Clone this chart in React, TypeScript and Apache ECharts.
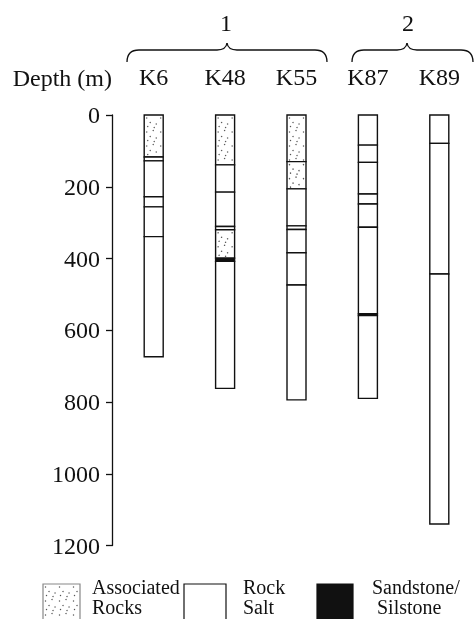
import React, { useEffect, useRef } from "react";
import * as echarts from "echarts";

// ---- data ----
const wells = ["K6", "K48", "K55", "K87", "K89"];
const groupLabels = ["1", "2"];
const depthTicks = [0, 200, 400, 600, 800, 1000, 1200];

// lithology codes: A = associated rocks, R = rock salt, S = sandstone/siltstone
// [top (m), bottom (m), code]
const k6Layers: [number, number, string][] = [
  [0, 117, "A"], [117, 128, "R"], [128, 228, "R"], [228, 256, "R"], [256, 339, "R"], [339, 674, "R"],
];
const k48Layers: [number, number, string][] = [
  [0, 139, "A"], [139, 215, "A"], [215, 311, "R"], [311, 320, "R"], [320, 399, "A"], [399, 408, "S"], [408, 762, "R"],
];
const k55Layers: [number, number, string][] = [
  [0, 130, "A"], [130, 206, "A"], [206, 309, "R"], [309, 319, "R"], [319, 384, "A"], [384, 474, "R"], [474, 794, "R"],
];
const k87Layers: [number, number, string][] = [
  [0, 84, "R"], [84, 132, "R"], [132, 220, "R"], [220, 248, "R"], [248, 313, "R"], [313, 554, "R"], [554, 559, "S"], [559, 790, "R"],
];
const k89Layers: [number, number, string][] = [
  [0, 79, "R"], [79, 443, "R"], [443, 1140, "R"],
];
const wellLayers = [k6Layers, k48Layers, k55Layers, k87Layers, k89Layers];

const legendItems = [
  { code: "A", lines: ["Associated", "Rocks"] },
  { code: "R", lines: ["Rock", "Salt"] },
  { code: "S", lines: ["Sandstone/", "Silstone"] },
];

// ---- styles ----
const FONT = "Liberation Serif";
const INK = "#111";
const COL_W = 19;
const fills: Record<string, string> = { A: "#ffffff", R: "#ffffff", S: "#111111" };
// stipple dot offsets inside one 14x14 tile (texture, not data)
const STIPPLE = [[2.5, 3], [9, 1.5], [6, 7.5], [12, 9], [3.5, 11.5], [10, 12.5]];

function stippleDots(x: number, y: number, w: number, h: number) {
  const out: any[] = [];
  for (let ty = 0; ty < h; ty += 14) {
    for (let tx = 0; tx < w; tx += 14) {
      STIPPLE.forEach(([dx, dy]) => {
        const cx = x + tx + dx, cy = y + ty + dy;
        if (cx > x + 1.5 && cx < x + w - 1.5 && cy > y + 1.5 && cy < y + h - 1.5) {
          out.push({ type: "circle", shape: { cx, cy, r: 0.7 }, style: { fill: "#555" }, silent: true });
        }
      });
    }
  }
  return out;
}

function brace(x0: number, x1: number, xm: number, yTop: number, yEnd: number) {
  const yb = yTop + 7;
  const st = { stroke: INK, lineWidth: 1.3, fill: "none" };
  return [
    { type: "bezierCurve", shape: { x1: x0, y1: yEnd, x2: x0 + 12, y2: yb, cpx1: x0, cpy1: yb }, style: st },
    { type: "line", shape: { x1: x0 + 12, y1: yb, x2: xm - 10, y2: yb }, style: st },
    { type: "bezierCurve", shape: { x1: xm - 10, y1: yb, x2: xm, y2: yTop, cpx1: xm - 1, cpy1: yb }, style: st },
    { type: "bezierCurve", shape: { x1: xm, y1: yTop, x2: xm + 10, y2: yb, cpx1: xm + 1, cpy1: yb }, style: st },
    { type: "line", shape: { x1: xm + 10, y1: yb, x2: x1 - 12, y2: yb }, style: st },
    { type: "bezierCurve", shape: { x1: x1 - 12, y1: yb, x2: x1, y2: yEnd, cpx1: x1, cpy1: yb }, style: st },
  ];
}

function txt(text: string, x: number, y: number, size: number, align: string) {
  return {
    type: "text", x, y,
    style: { text, fontFamily: FONT, fontSize: size, fill: INK, align, verticalAlign: "middle" },
  };
}

export default function App() {
  const ref = useRef<HTMLDivElement>(null);
  useEffect(() => {
    if (!ref.current) return;
    const chart = echarts.init(ref.current, undefined, { renderer: "svg" });
    const codeIndex: Record<string, number> = { A: 0, R: 1, S: 2 };
    const codes = ["A", "R", "S"];
    const data: number[][] = [];
    wellLayers.forEach((layers, wi) =>
      layers.forEach(([top, bot, c]) => data.push([wi, top, bot, codeIndex[c]]))
    );

    const legendX = [43, 184, 317];
    const legendW = [37, 42, 36];
    const legendTextX = [92, 243, 372];
    const legendTextX2 = [92, 243, 377];
    const legendGraphics: any[] = [];
    legendItems.forEach((it, i) => {
      legendGraphics.push({
        type: "rect",
        shape: { x: legendX[i], y: 584, width: legendW[i], height: 36 },
        style: { fill: fills[it.code], stroke: it.code === "A" ? "#888" : INK, lineWidth: 1.2 },
      });
      if (it.code === "A") legendGraphics.push(...stippleDots(legendX[i], 584, legendW[i], 36));
      legendGraphics.push(txt(it.lines[0], legendTextX[i], 587, 20, "left"));
      legendGraphics.push(txt(it.lines[1], legendTextX2[i], 607, 20, "left"));
    });

    chart.setOption({
      animation: false,
      grid: { left: 118, right: -8, top: 115, bottom: 73.5 },
      xAxis: {
        type: "category",
        position: "top",
        data: wells,
        axisLine: { show: false },
        axisTick: { show: false },
        splitLine: { show: false },
        axisLabel: { fontFamily: FONT, fontSize: 24, color: INK, margin: 26 },
      },
      yAxis: {
        type: "value",
        inverse: true,
        min: 0,
        max: 1200,
        interval: 200,
        offset: 6,
        axisLine: { show: true, lineStyle: { color: INK, width: 1.3 } },
        axisTick: { show: true, length: 6, lineStyle: { color: INK, width: 1.3 } },
        splitLine: { show: false },
        axisLabel: {
          fontFamily: FONT, fontSize: 24, color: INK, margin: 12,
          formatter: (v: number) => (depthTicks.includes(v) ? String(v) : ""),
        },
      },
      graphic: [
        txt("Depth (m)", 112, 78, 24, "right"),
        txt(groupLabels[0], 226, 23, 24, "center"),
        txt(groupLabels[1], 408, 23, 24, "center"),
        ...brace(127, 327, 227, 43, 62),
        ...brace(352, 473, 407, 43, 62),
        ...legendGraphics,
      ],
      series: [
        {
          type: "custom",
          data,
          encode: { x: 0, y: [1, 2] },
          renderItem: (params: any, api: any) => {
            const wi = api.value(0);
            const top = api.value(1);
            const bot = api.value(2);
            const code = codes[api.value(3)];
            const p0 = api.coord([wi, top]);
            const p1 = api.coord([wi, bot]);
            const x = p0[0] - COL_W / 2, y = p0[1], h = p1[1] - p0[1];
            const children: any[] = [
              {
                type: "rect",
                shape: { x, y, width: COL_W, height: h },
                style: { fill: fills[code], stroke: INK, lineWidth: 1.4 },
              },
            ];
            if (code === "A") children.push(...stippleDots(x, y, COL_W, h));
            return { type: "group", children };
          },
        },
      ],
    });
    return () => chart.dispose();
  }, []);
  return <div ref={ref} style={{ position: "fixed", left: 0, top: 0, width: 475, height: 619 }} />;
}
